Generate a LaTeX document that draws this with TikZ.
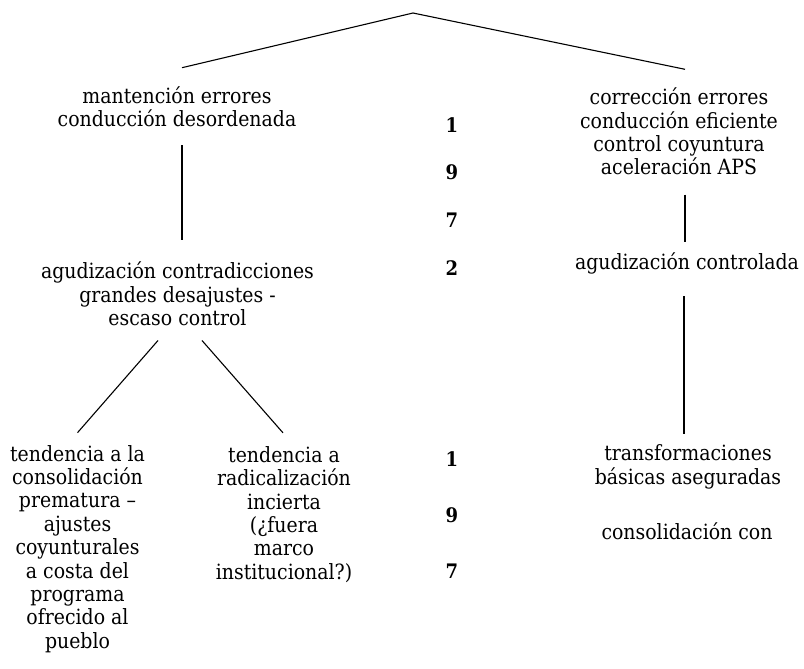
\documentclass[tikz,border=0pt]{standalone}
\usepackage{fontspec}
\setmainfont{DejaVu Serif}[FakeStretch=0.9]
\usetikzlibrary{positioning}

\begin{document}
\begin{tikzpicture}[x=1pt,y=-1pt,
        txt/.style={font=\fontsize{21}{23.4}\selectfont, align=center, inner sep=0pt},
        yr/.style={font=\fontsize{20}{23.4}\selectfont\bfseries, inner sep=0pt},
        every path/.style={line width=1.1pt}]
        \useasboundingbox (0,0) rectangle (804,669);
        % Root
        \coordinate (root) at (413,13);
        % Left branch
        \node[txt] (mant) at (177,106.5) {mantención errores\\conducción desordenada};
        \node[txt] (agud) at (177.5,294) {agudización contradicciones\\grandes desajustes -\\escaso control};
        \node[txt] (prem) at (77.5,549) {tendencia a la\\consolidación\\prematura --\\ajustes\\coyunturales\\a costa del\\programa\\ofrecido al\\pueblo};
        \node[txt] (radi) at (284,514.5) {tendencia a\\radicalización\\incierta\\(¿fuera\\marco\\institucional?)};
        % Right branch
        \node[txt] (corr) at (679,131.5) {corrección errores\\conducción eficiente\\control coyuntura\\aceleración APS};
        \node[txt] (ctrl) at (687,263) {agudización controlada};
        \node[txt] (trans) at (688,466.7) {transformaciones\\básicas aseguradas};
        \node[txt] (cons) at (687,531) {consolidación con};
        % Years
        \foreach \d/\y [count=\i] in {1/125,9/172,7/220,2/268}
            \node[yr] (ya\i) at (452,\y) {\d};
        \foreach \d/\y [count=\i] in {1/459,9/515,7/571}
            \node[yr] (yb\i) at (452,\y) {\d};
        % Lines
        \draw (root) -- ([xshift=5pt,yshift=18pt]mant.north);
        \draw (root) -- ([xshift=6pt,yshift=18pt]corr.north);
        \draw ([xshift=5pt,yshift=-18pt]mant.south) -- ([xshift=4.5pt,yshift=22pt]agud.north);
        \draw ([xshift=-19.5pt,yshift=-14pt]agud.south) -- ([yshift=12pt]prem.north);
        \draw ([xshift=24.5pt,yshift=-14pt]agud.south) -- ([xshift=-1pt,yshift=13pt]radi.north);
        \draw ([xshift=6pt,yshift=-19pt]corr.south) -- ([xshift=-2pt,yshift=10pt]ctrl.north);
        \draw ([xshift=-3pt,yshift=-22pt]ctrl.south) -- ([xshift=-4pt,yshift=10pt]trans.north);
    \end{tikzpicture}
\end{document}
